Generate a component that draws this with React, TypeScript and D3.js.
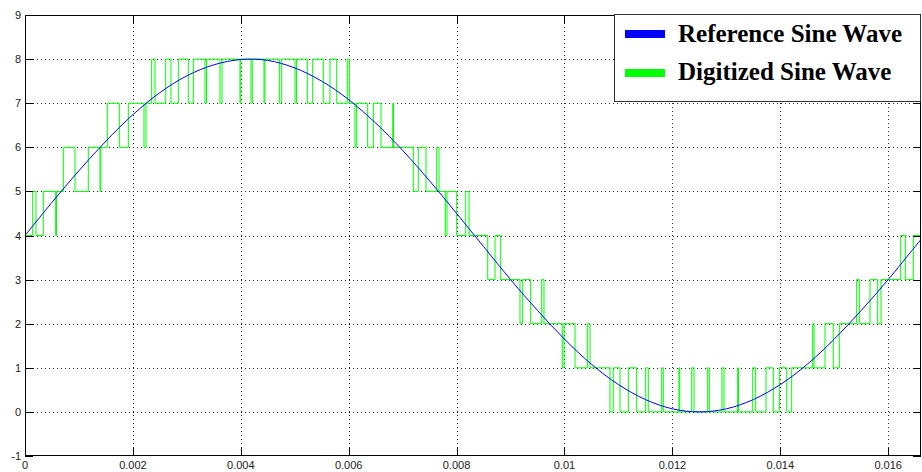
import React from "react";
import * as d3 from "d3";

// ---- data ----
const xTickValues = [0, 0.002, 0.004, 0.006, 0.008, 0.01, 0.012, 0.014, 0.016];
const xTickLabels = ["0", "0.002", "0.004", "0.006", "0.008", "0.01", "0.012", "0.014", "0.016"];
const yTickValues = [-1, 0, 1, 2, 3, 4, 5, 6, 7, 8, 9];

// reference sine wave, read at 0.5 ms steps
const refTime = [0, 0.0005, 0.001, 0.0015, 0.002, 0.0025, 0.003, 0.0035, 0.004, 0.0045, 0.005, 0.0055, 0.006, 0.0065, 0.007, 0.0075, 0.008, 0.0085, 0.009, 0.0095, 0.01, 0.0105, 0.011, 0.0115, 0.012, 0.0125, 0.013, 0.0135, 0.014, 0.0145, 0.015, 0.0155, 0.016, 0.0165, 0.01667];
const refValue = [4.0, 4.75, 5.47, 6.14, 6.74, 7.24, 7.62, 7.87, 7.99, 7.97, 7.8, 7.5, 7.08, 6.55, 5.93, 5.24, 4.5, 3.75, 3.0, 2.3, 1.65, 1.08, 0.62, 0.28, 0.07, 0.0, 0.07, 0.28, 0.62, 1.08, 1.65, 2.3, 3.0, 3.75, 4.0];

// digitized wave: switching instants and the level held after each one
const digTime = [0, 0.00001, 0.000143, 0.000204, 0.000339, 0.000569, 0.000584, 0.00071, 0.000927, 0.001173, 0.00139, 0.001405, 0.001525, 0.001748, 0.001915, 0.002206, 0.002243, 0.002348, 0.00241, 0.002608, 0.002706, 0.002842, 0.003027, 0.00312, 0.003336, 0.003364, 0.003614, 0.003652, 0.003985, 0.004, 0.004189, 0.004213, 0.00443, 0.004445, 0.004714, 0.004758, 0.005005, 0.005032, 0.005233, 0.005333, 0.005529, 0.005653, 0.005778, 0.005974, 0.006011, 0.006117, 0.006148, 0.006352, 0.006456, 0.006599, 0.006816, 0.00683, 0.007197, 0.00729, 0.007433, 0.007631, 0.007674, 0.00779, 0.007822, 0.008002, 0.008169, 0.00823, 0.008577, 0.008712, 0.008817, 0.009175, 0.009225, 0.009373, 0.009578, 0.00962, 0.009959, 0.009991, 0.010195, 0.010423, 0.010473, 0.010843, 0.010904, 0.011029, 0.011183, 0.011338, 0.011505, 0.011553, 0.011802, 0.011831, 0.012122, 0.012135, 0.012358, 0.0124, 0.012654, 0.012684, 0.012919, 0.012956, 0.01321, 0.013225, 0.013489, 0.013544, 0.013735, 0.01387, 0.013982, 0.014119, 0.014211, 0.014601, 0.014625, 0.014829, 0.014982, 0.015094, 0.015416, 0.015464, 0.015663, 0.015805, 0.015867, 0.016232, 0.016317, 0.016465, 0.01667];
const digLevel = [3, 4, 5, 4, 5, 4, 5, 6, 5, 6, 5, 6, 7, 6, 7, 6, 7, 8, 7, 8, 7, 8, 7, 8, 7, 8, 7, 8, 7, 8, 7, 8, 7, 8, 7, 8, 7, 8, 7, 8, 7, 8, 7, 8, 7, 6, 7, 6, 7, 6, 7, 6, 5, 6, 5, 6, 5, 4, 5, 4, 5, 4, 3, 4, 3, 2, 3, 2, 3, 2, 1, 2, 1, 2, 1, 0, 1, 0, 1, 0, 1, 0, 1, 0, 1, 0, 1, 0, 1, 0, 1, 0, 1, 0, 1, 0, 1, 0, 1, 0, 1, 2, 1, 2, 1, 2, 3, 2, 3, 2, 3, 4, 3, 4, 4];

const legendLabels = ["Reference Sine Wave", "Digitized Sine Wave"];
const seriesColors = ["#0000ff", "#00ff00"];

// ---- layout ----
const W = 922;
const H = 472;
const left = 25;
const right = 921;
const top = 15;
const bottom = 456;

export default function App() {
  const x = d3.scaleLinear().domain([0, 0.016608]).range([left, right]);
  const y = d3.scaleLinear().domain([-1, 9]).range([bottom, top]);

  const refPts: [number, number][] = refTime.map((t, i) => [t, refValue[i]]);
  const digPts: [number, number][] = digTime.map((t, i) => [t, digLevel[i]]);

  const refLine = d3
    .line<[number, number]>()
    .x((d) => x(d[0]))
    .y((d) => y(d[1]))
    .curve(d3.curveCatmullRom);
  const digLine = d3
    .line<[number, number]>()
    .x((d) => x(d[0]))
    .y((d) => y(d[1]))
    .curve(d3.curveStepAfter);

  const tickLen = 8;
  const labelFont = "Arial, 'Liberation Sans', sans-serif";

  return (
    <svg
      width={W}
      height={H}
      style={{ position: "fixed", left: 0, top: 0, background: "#fff" }}
    >
      <rect x={0} y={0} width={W} height={H} fill="#fff" />
      <defs>
        <clipPath id="plotClip">
          <rect x={left} y={top} width={right - left} height={bottom - top} />
        </clipPath>
      </defs>
      {/* grid */}
      <g stroke="#222" strokeWidth={1} strokeDasharray="1,3">
        {xTickValues.slice(1).map((v) => (
          <line key={"gx" + v} x1={Math.round(x(v)) + 0.5} x2={Math.round(x(v)) + 0.5} y1={top} y2={bottom} />
        ))}
        {yTickValues.slice(1, -1).map((v) => (
          <line key={"gy" + v} x1={left} x2={right} y1={Math.round(y(v)) + 0.5} y2={Math.round(y(v)) + 0.5} />
        ))}
      </g>
      {/* data */}
      <g clipPath="url(#plotClip)" fill="none">
        <path d={digLine(digPts) || ""} stroke={seriesColors[1]} strokeWidth={1} />
        <path d={refLine(refPts) || ""} stroke={seriesColors[0]} strokeWidth={1} />
      </g>
      {/* axes box */}
      <rect x={left + 0.5} y={top + 0.5} width={right - left - 1} height={bottom - top - 1} fill="none" stroke="#000" strokeWidth={1} />
      {/* ticks */}
      <g stroke="#000" strokeWidth={1}>
        {xTickValues.map((v) => {
          const px = Math.round(x(v)) + 0.5;
          return (
            <g key={"tx" + v}>
              <line x1={px} x2={px} y1={bottom} y2={bottom - tickLen} />
              <line x1={px} x2={px} y1={top} y2={top + tickLen} />
            </g>
          );
        })}
        {yTickValues.map((v) => {
          const py = Math.round(y(v)) + 0.5;
          return (
            <g key={"ty" + v}>
              <line x1={left} x2={left + tickLen} y1={py} y2={py} />
              <line x1={right} x2={right - tickLen} y1={py} y2={py} />
            </g>
          );
        })}
      </g>
      {/* tick labels */}
      <g fontFamily={labelFont} fontSize={11} fill="#222">
        {xTickValues.map((v, i) => (
          <text key={"lx" + v} x={x(v)} y={bottom + 13} textAnchor="middle">
            {xTickLabels[i]}
          </text>
        ))}
        {yTickValues.map((v) => (
          <text key={"ly" + v} x={left - 4} y={y(v) + 4} textAnchor="end">
            {String(v)}
          </text>
        ))}
      </g>
      {/* legend */}
      <g>
        <rect x={614.5} y={14.5} width={306} height={87} fill="#fff" stroke="#333" strokeWidth={1} />
        {legendLabels.map((lab, i) => (
          <g key={lab}>
            <rect x={625} y={30 + i * 39} width={40} height={8} fill={seriesColors[i]} />
            <text
              x={678}
              y={42 + i * 38}
              fontFamily="'Liberation Serif', 'Times New Roman', serif"
              fontWeight="bold"
              fontSize={25}
              fill="#000"
            >
              {lab}
            </text>
          </g>
        ))}
      </g>
    </svg>
  );
}
